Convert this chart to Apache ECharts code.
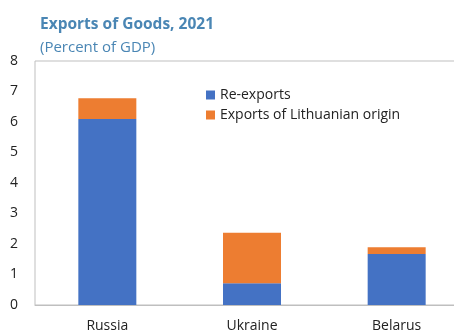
<!DOCTYPE html>
<html>
<head>
<meta charset="utf-8">
<script src="https://cdn.jsdelivr.net/npm/echarts@6/dist/echarts.min.js"></script>
<style>
  html, body { margin: 0; padding: 0; background: #fff; }
  #chart { width: 454px; height: 332px; }
</style>
</head>
<body>
<div id="chart"></div>
<script>
// Exports of goods by destination, percent of GDP
const countries = ['Russia', 'Ukraine', 'Belarus'];
const reExports = [6.1, 0.71, 1.67];
const lithuanianOrigin = [0.68, 1.66, 0.22];
const yTicks = [0, 1, 2, 3, 4, 5, 6, 7, 8];

const font = '"Open Sans", "Noto Sans", sans-serif';
const chart = echarts.init(document.getElementById('chart'));

chart.setOption({
  animation: false,
  backgroundColor: '#fff',
  title: [
    {
      text: 'Exports of Goods, 2021',
      left: 35, top: 12,
      textStyle: { fontFamily: font, fontSize: 15.5, fontWeight: 'bold', color: '#4a86b4' }
    },
    {
      text: '(Percent of GDP)',
      left: 35, top: 35,
      textStyle: { fontFamily: font, fontSize: 15, fontWeight: 'normal', color: '#4a86b4' }
    }
  ],
  legend: {
    orient: 'vertical',
    left: 201, top: 83,
    itemWidth: 9, itemHeight: 9, itemGap: 6,
    icon: 'rect',
    textStyle: { fontFamily: font, fontSize: 14, color: '#222' },
    data: ['Re-exports', 'Exports of Lithuanian origin']
  },
  grid: {
    left: 35, right: -15, top: 61, bottom: 27,
    outerBoundsMode: 'none',
    containLabel: false,
    show: true, borderColor: '#bfbfbf', borderWidth: 1, backgroundColor: 'transparent'
  },
  xAxis: {
    type: 'category',
    data: countries,
    axisLine: { show: true, lineStyle: { color: '#bfbfbf' } },
    axisTick: { show: false },
    axisLabel: { fontFamily: font, fontSize: 14, color: '#222', margin: 14 }
  },
  yAxis: {
    type: 'value',
    min: yTicks[0], max: yTicks[yTicks.length - 1], interval: 1,
    splitLine: { show: false },
    axisLine: { show: false },
    axisTick: { show: false },
    axisLabel: { fontFamily: font, fontSize: 14, color: '#222', margin: 17 }
  },
  series: [
    {
      name: 'Re-exports', type: 'bar', stack: 'total',
      data: reExports, barWidth: 58,
      itemStyle: { color: '#4472c4' }
    },
    {
      name: 'Exports of Lithuanian origin', type: 'bar', stack: 'total',
      data: lithuanianOrigin, barWidth: 58,
      itemStyle: { color: '#ed7d31' }
    }
  ]
});
</script>
</body>
</html>
